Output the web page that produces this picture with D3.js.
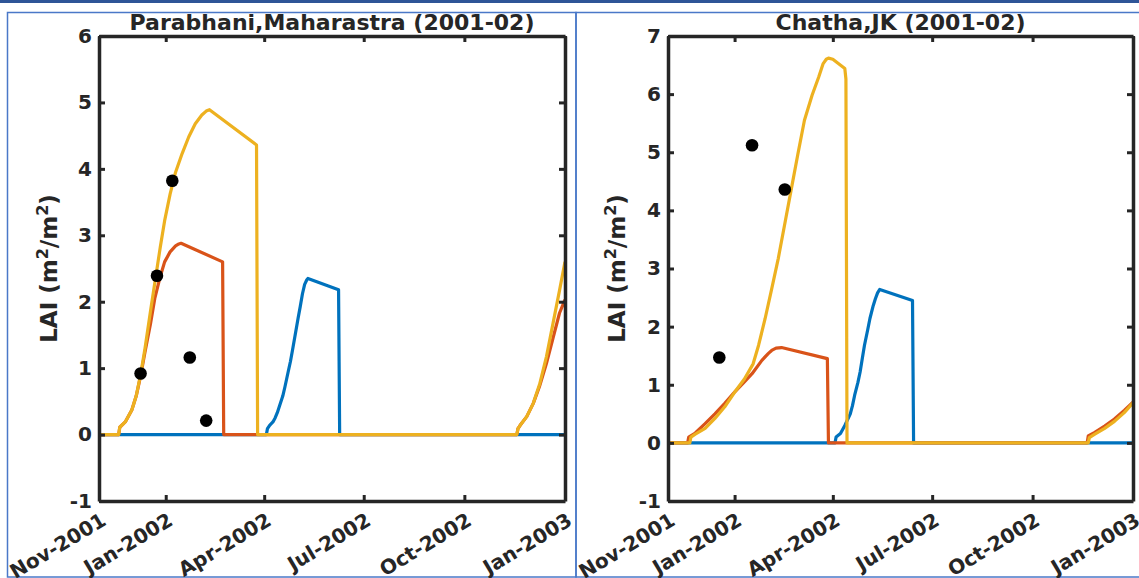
<!DOCTYPE html>
<html>
<head>
<meta charset="utf-8">
<script src="https://cdn.jsdelivr.net/npm/d3@7"></script>
<style>
  html, body { margin: 0; padding: 0; background: #ffffff; }
  svg { display: block; }
  text { font-family: "DejaVu Sans", sans-serif; font-weight: bold; fill: #262626; }
</style>
</head>
<body>
<script>
// Simulated LAI for three cultivars (blue, red, yellow) and observed LAI (dots),
// by day since 1 Nov 2001.

// ---- Parabhani, Maharastra ----
const parabhaniBlueDay = [0, 153, 154, 156, 159, 161, 163, 165, 168, 170, 173, 175, 177, 179, 182, 184, 186, 188, 190, 191, 219, 220, 426];
const parabhaniBlueLai = [0, 0, 0.09, 0.14, 0.19, 0.25, 0.33, 0.43, 0.58, 0.72, 0.95, 1.10, 1.28, 1.47, 1.75, 1.93, 2.12, 2.26, 2.33, 2.35, 2.18, 0, 0];

const parabhaniRedDay = [0, 18, 19, 24, 30, 34, 38, 42, 47, 51, 56, 60, 65, 70, 73, 75, 113, 114, 382, 383, 385, 391, 397, 403, 409, 415, 421, 426];
const parabhaniRedLai = [0, 0, 0.11, 0.19, 0.37, 0.58, 0.88, 1.24, 1.66, 2.05, 2.38, 2.60, 2.75, 2.84, 2.87, 2.88, 2.60, 0, 0, 0.09, 0.14, 0.27, 0.47, 0.74, 1.07, 1.45, 1.83, 2.03];

const parabhaniYellowDay = [0, 18, 19, 24, 30, 34, 38, 42, 47, 51, 56, 60, 65, 70, 76, 82, 88, 94, 98, 101, 144, 145, 382, 383, 385, 391, 397, 403, 409, 415, 421, 426];
const parabhaniYellowLai = [0, 0, 0.11, 0.19, 0.37, 0.58, 0.90, 1.29, 1.85, 2.28, 2.82, 3.22, 3.62, 3.95, 4.23, 4.48, 4.68, 4.81, 4.87, 4.89, 4.36, 0, 0, 0.09, 0.14, 0.27, 0.47, 0.77, 1.17, 1.67, 2.17, 2.60];

const parabhaniObsDay = [38, 53, 67, 83, 98];
const parabhaniObsLai = [0.92, 2.39, 3.82, 1.16, 0.21];

// ---- Chatha, JK ----
const chathaBlueDay = [0, 153, 154, 158, 162, 165, 167, 169, 171, 174, 176, 178, 180, 183, 185, 188, 190, 192, 194, 224, 225, 426];
const chathaBlueLai = [0, 0, 0.10, 0.16, 0.30, 0.42, 0.50, 0.64, 0.82, 1.04, 1.22, 1.45, 1.68, 1.95, 2.14, 2.36, 2.48, 2.58, 2.64, 2.45, 0, 0];

const chathaRedDay = [0, 18, 19, 25, 34, 43, 52, 61, 70, 77, 86, 92, 95, 99, 104, 146, 147, 384, 385, 391, 400, 409, 418, 426];
const chathaRedLai = [0, 0, 0.10, 0.17, 0.33, 0.50, 0.68, 0.875, 1.05, 1.19, 1.42, 1.54, 1.59, 1.63, 1.64, 1.45, 0, 0, 0.12, 0.18, 0.29, 0.41, 0.56, 0.70];

const chathaYellowDay = [0, 20, 21, 25, 34, 43, 52, 61, 70, 78, 83, 89, 95, 101, 107, 113, 119, 125, 132, 138, 142, 145, 147, 151, 162, 163, 164, 385, 386, 391, 400, 409, 418, 426];
const chathaYellowLai = [0, 0, 0.10, 0.15, 0.25, 0.42, 0.62, 0.87, 1.10, 1.36, 1.68, 2.14, 2.65, 3.17, 3.77, 4.37, 4.97, 5.55, 5.98, 6.29, 6.52, 6.60, 6.62, 6.60, 6.44, 6.26, 0, 0, 0.09, 0.15, 0.25, 0.37, 0.52, 0.69];

const chathaObsDay = [47, 77, 107];
const chathaObsLai = [1.47, 5.12, 4.36];

// ---- axes ----
const monthTicks = ["2001-11-01", "2002-01-01", "2002-04-01", "2002-07-01", "2002-10-01", "2003-01-01"];
const parabhaniYTicks = [-1, 0, 1, 2, 3, 4, 5, 6];
const chathaYTicks = [-1, 0, 1, 2, 3, 4, 5, 6, 7];
const panelTitles = ["Parabhani,Maharastra (2001-02)", "Chatha,JK (2001-02)"];

const W = 1139, H = 578;
const seasonStart = new Date(2001, 10, 1);
const seasonEnd = new Date(2003, 0, 1);
const parseDay = d3.timeParse("%Y-%m-%d");
const fmtMonth = d3.timeFormat("%b-%Y");

const svg = d3.select("body").append("svg").attr("width", W).attr("height", H);

// page frames
svg.append("rect").attr("x", 0).attr("y", 0).attr("width", W).attr("height", 3).attr("fill", "#2f5597");
svg.append("rect").attr("x", 7.5).attr("y", 12.5).attr("width", 568.5).attr("height", 564.5)
  .attr("fill", "none").attr("stroke", "#4a78c8").attr("stroke-width", 1.5);
svg.append("rect").attr("x", 576).attr("y", 12.5).attr("width", 570).attr("height", 564.5)
  .attr("fill", "none").attr("stroke", "#4a78c8").attr("stroke-width", 1.5);

const colors = { blue: "#0072bd", red: "#d95319", yellow: "#edb120" };

function toSeries(days, lai) {
  return days.map((d, i) => ({ date: d3.timeDay.offset(seasonStart, d), v: lai[i] }));
}

const panels = [
  {
    left: 99, right: 565, top: 36, bottom: 501, yMax: 6, yTicks: parabhaniYTicks, title: panelTitles[0], yLabelX: 57,
    series: [
      { c: colors.blue, d: toSeries(parabhaniBlueDay, parabhaniBlueLai) },
      { c: colors.red, d: toSeries(parabhaniRedDay, parabhaniRedLai) },
      { c: colors.yellow, d: toSeries(parabhaniYellowDay, parabhaniYellowLai) }
    ],
    obs: toSeries(parabhaniObsDay, parabhaniObsLai)
  },
  {
    left: 668, right: 1133, top: 36, bottom: 501, yMax: 7, yTicks: chathaYTicks, title: panelTitles[1], yLabelX: 625,
    series: [
      { c: colors.blue, d: toSeries(chathaBlueDay, chathaBlueLai) },
      { c: colors.red, d: toSeries(chathaRedDay, chathaRedLai) },
      { c: colors.yellow, d: toSeries(chathaYellowDay, chathaYellowLai) }
    ],
    obs: toSeries(chathaObsDay, chathaObsLai)
  }
];

panels.forEach((p, idx) => {
  const x = d3.scaleTime().domain([seasonStart, seasonEnd]).range([p.left, p.right]);
  const y = d3.scaleLinear().domain([-1, p.yMax]).range([p.bottom, p.top]);
  const g = svg.append("g");

  const clipId = "clip" + idx;
  svg.append("clipPath").attr("id", clipId).append("rect")
    .attr("x", p.left).attr("y", p.top).attr("width", p.right - p.left).attr("height", p.bottom - p.top);

  const plot = g.append("g").attr("clip-path", `url(#${clipId})`);
  const line = d3.line().x(d => x(d.date)).y(d => y(d.v));
  p.series.forEach(s => {
    plot.append("path").datum(s.d).attr("d", line)
      .attr("fill", "none").attr("stroke", s.c).attr("stroke-width", 3.2)
      .attr("stroke-linejoin", "round");
  });
  plot.selectAll("circle.obs").data(p.obs).join("circle").attr("class", "obs")
    .attr("cx", d => x(d.date)).attr("cy", d => y(d.v)).attr("r", 6.3).attr("fill", "#000");

  const tickDates = monthTicks.map(parseDay);
  const axisStyle = sel => {
    sel.select(".domain").attr("stroke", "#262626").attr("stroke-width", 3.5);
    sel.selectAll(".tick line").attr("stroke", "#262626").attr("stroke-width", 3);
    sel.selectAll(".tick text").attr("fill", "#262626").style("font-size", "20px").style("font-weight", "bold");
  };

  // bottom axis
  const xb = g.append("g").attr("transform", `translate(0,${p.bottom})`)
    .call(d3.axisBottom(x).tickValues(tickDates).tickFormat(fmtMonth).tickSizeInner(-6).tickSizeOuter(0).tickPadding(8));
  axisStyle(xb);
  xb.selectAll(".tick text")
    .attr("text-anchor", "end").attr("dy", 0).attr("y", 0)
    .attr("transform", "translate(8,23) rotate(-31)");

  // top axis (box)
  const xt = g.append("g").attr("transform", `translate(0,${p.top})`)
    .call(d3.axisTop(x).tickValues(tickDates).tickFormat("").tickSizeInner(-6).tickSizeOuter(0));
  axisStyle(xt);

  // left axis
  const yl = g.append("g").attr("transform", `translate(${p.left},0)`)
    .call(d3.axisLeft(y).tickValues(p.yTicks).tickFormat(d => String(d)).tickSizeInner(-6).tickSizeOuter(0).tickPadding(7));
  axisStyle(yl);

  // right axis (box)
  const yr = g.append("g").attr("transform", `translate(${p.right},0)`)
    .call(d3.axisRight(y).tickValues(p.yTicks).tickFormat("").tickSizeInner(-6).tickSizeOuter(0));
  axisStyle(yr);

  // title
  g.append("text").attr("x", (p.left + p.right) / 2).attr("y", 30)
    .attr("text-anchor", "middle").style("font-size", "22px").text(p.title);

  // y label: LAI (m²/m²)
  const cy = (p.top + p.bottom) / 2;
  const yl2 = g.append("text").attr("transform", `translate(${p.yLabelX},${cy}) rotate(-90)`)
    .attr("text-anchor", "middle").style("font-size", "23px");
  yl2.append("tspan").text("LAI (m");
  yl2.append("tspan").attr("baseline-shift", "super").style("font-size", "16px").text("2");
  yl2.append("tspan").text("/m");
  yl2.append("tspan").attr("baseline-shift", "super").style("font-size", "16px").text("2");
  yl2.append("tspan").text(")");
});
</script>
</body>
</html>
